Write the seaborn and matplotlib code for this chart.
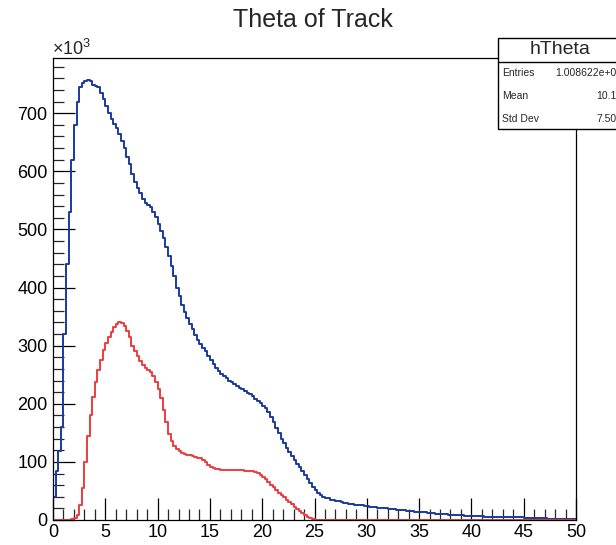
import numpy as np
import pandas as pd
import matplotlib
matplotlib.use("Agg")
import matplotlib.pyplot as plt
import seaborn as sns
from matplotlib.patches import Rectangle
from matplotlib.lines import Line2D
from matplotlib.ticker import MultipleLocator

# ---------------- data (thousands of entries per 0.25 bin) ----------------
x_min, x_max, bin_width = 0.0, 50.0, 0.25

blue_counts = [
    40, 85, 118, 160,
    320, 440, 530, 620,
    680, 720, 745, 752,
    756, 757, 755, 748,
    746, 745, 735, 725,
    712, 700, 690, 682,
    675, 665, 652, 640,
    625, 612, 595, 582,
    572, 562, 552, 546,
    542, 538, 530, 522,
    510, 498, 485, 470,
    455, 437, 420, 400,
    385, 370, 358, 348,
    338, 328, 318, 310,
    302, 296, 290, 283,
    276, 269, 262, 256,
    251, 247, 244, 240,
    237, 234, 231, 228,
    225, 222, 219, 216,
    213, 209, 205, 201,
    197, 192, 186, 178,
    168, 158, 149, 140,
    132, 124, 117, 110,
    103, 97, 91, 84,
    77, 70, 63, 56,
    51, 47, 43, 40,
    38, 37, 35, 34,
    33, 32, 31, 30,
    29, 28, 27, 26.5,
    26, 25.5, 25, 24,
    23.5, 23, 22.5, 22,
    21.5, 21, 20.5, 20,
    19.5, 19, 18.5, 18,
    17.5, 17, 16.5, 16,
    15.5, 15, 14.5, 14,
    13.8, 13.5, 13, 12.5,
    12, 11.5, 11, 10.5,
    10, 9.8, 9.5, 9.2,
    9, 8.7, 8.4, 8.1,
    7.8, 7.5, 7.3, 7.1,
    6.9, 6.7, 6.5, 6.3,
    6.1, 6.0, 5.8, 5.7,
    5.5, 5.4, 5.3, 5.2,
    5.1, 5.0, 4.9, 4.8,
    4.7, 4.6, 4.5, 4.4,
    4.2, 4.0, 3.8, 3.6,
    3.4, 3.2, 3.0, 2.8,
    2.6, 2.4, 2.3, 2.2,
    2.1, 2.0, 1.9, 1.8,
    1.7, 1.6, 1.5, 1.4,
]

red_counts = [
    0, 0, 0, 0,
    0, 0, 0.5, 1,
    3, 8, 25, 55,
    100, 145, 180, 212,
    238, 258, 276, 292,
    304, 315, 324, 332,
    337, 340, 339, 334,
    326, 315, 300, 290,
    282, 274, 267, 262,
    258, 254, 248, 238,
    225, 210, 190, 168,
    148, 136, 128, 122,
    118, 115, 113, 112,
    111, 110, 109, 107,
    106, 103, 99, 95,
    92, 90, 88, 87,
    86, 86, 86, 86,
    86, 86, 86, 86,
    86, 85, 85, 85,
    84, 83, 81, 78,
    74, 70, 65, 60,
    56, 52, 47, 43,
    39, 35, 31, 27,
    23, 19, 15, 12,
    9, 6, 3.5, 1.5,
] + [0] * 100

title = "Theta of Track"
stats_name = "hTheta"
stats_labels = ["Entries", "Mean", "Std Dev"]
stats_values = ["1.008622e+06", "10.12", "7.505"]
y_ticks = [0, 100, 200, 300, 400, 500, 600, 700]
x_ticks = [0, 5, 10, 15, 20, 25, 30, 35, 40, 45, 50]

n_bins = len(blue_counts)
centers = x_min + bin_width * (np.arange(n_bins) + 0.5)
df_all = pd.DataFrame({"theta": centers, "count": np.asarray(blue_counts, float)})
df_sel = pd.DataFrame({"theta": centers, "count": np.asarray(red_counts, float)})

# ---------------- style ----------------
sns.set_style("white")
plt.rcParams["font.family"] = ["Liberation Sans", "DejaVu Sans"]
plt.rcParams["mathtext.fontset"] = "custom"
plt.rcParams["mathtext.rm"] = "Liberation Sans"
plt.rcParams["mathtext.it"] = "Liberation Sans"

W, H = 616, 545
fig = plt.figure(figsize=(W / 100, H / 100), dpi=100)
L, R, T, B = 53, 576, 58, 520
ax = fig.add_axes([L / W, 1 - B / H, (R - L) / W, (B - T) / H])

blue = "#1b3a9e"
red = "#ee3d3d"
sns.histplot(data=df_all, x="theta", weights="count", binwidth=bin_width,
             binrange=(x_min, x_max), element="step", fill=False, color=blue,
             linewidth=1.4, ax=ax)
sns.histplot(data=df_sel, x="theta", weights="count", binwidth=bin_width,
             binrange=(x_min, x_max), element="step", fill=False, color=red,
             linewidth=1.4, ax=ax)

ax.set_xlim(x_min, x_max)
ax.set_ylim(0, 795)
ax.set_xlabel("")
ax.set_ylabel("")
ax.set_xticks(x_ticks)
ax.set_yticks(y_ticks)
ax.xaxis.set_minor_locator(MultipleLocator(1))
ax.yaxis.set_minor_locator(MultipleLocator(20))
ax.tick_params(axis="both", which="major", direction="in", length=16, width=0.9,
               labelsize=13, colors="black", top=False, right=False)
ax.tick_params(axis="x", which="major", pad=3)
ax.tick_params(axis="y", which="major", pad=4)
ax.tick_params(axis="both", which="minor", direction="in", length=8, width=0.9,
               top=False, right=False)
ax.tick_params(axis="both", which="both", bottom=True, left=True)
for s in ax.spines.values():
    s.set_visible(True)
    s.set_color("black")
    s.set_linewidth(0.9)

fig.text(313 / W, 1 - 20 / H, title, ha="center", va="center", fontsize=18)
fig.text(52 / W, 1 - 55 / H, r"$\times$10$^{3}$", ha="left", va="baseline", fontsize=13)

# stats box
bx0, bx1, by0, by1, bsep = 498, 624, 38, 129, 62
fig.patches.append(Rectangle((bx0 / W, 1 - by1 / H), (bx1 - bx0) / W, (by1 - by0) / H,
                             transform=fig.transFigure, facecolor="white",
                             edgecolor="black", linewidth=1.0, zorder=5))
fig.lines.append(Line2D([bx0 / W, bx1 / W], [1 - bsep / H, 1 - bsep / H],
                        transform=fig.transFigure, color="black", linewidth=1.0, zorder=6))
fig.text(560 / W, 1 - 50 / H, stats_name, ha="center", va="center",
         fontsize=14, zorder=7)
for i, (lab, val) in enumerate(zip(stats_labels, stats_values)):
    yy = 1 - (73 + 23 * i) / H
    fig.text(502 / W, yy, lab, ha="left", va="center", fontsize=7.5, zorder=7)
    fig.text(622 / W, yy, val, ha="right", va="center", fontsize=7.5, zorder=7)

fig.savefig("out.png", dpi=100)
